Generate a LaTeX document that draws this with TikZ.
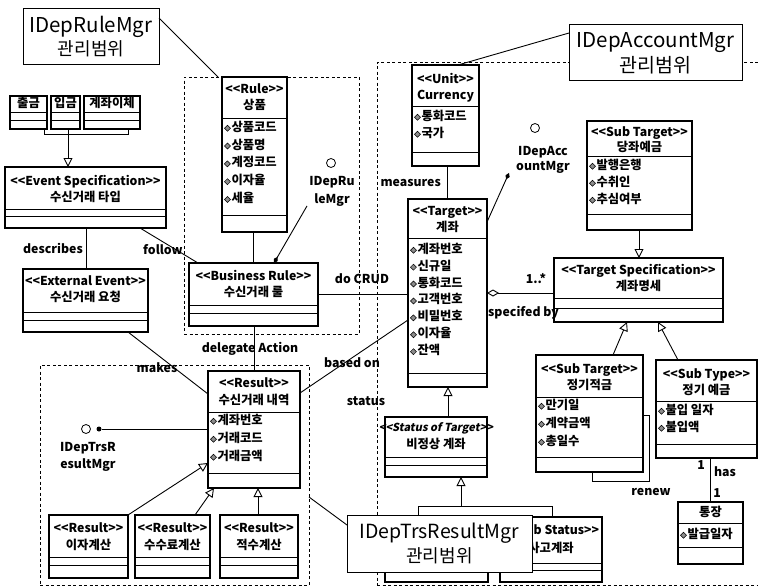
\documentclass[tikz,border=0pt]{standalone}
\usepackage{fontspec}
\setmainfont{Noto Sans CJK KR}[Ligatures=TeXOff]
\newfontfamily\krsl{Noto Sans CJK KR}[Ligatures=TeXOff,FakeSlant=0.2]
\usetikzlibrary{arrows.meta,fit,calc}

\newcommand\attico{\tikz[x=1pt,y=1pt,baseline=0pt]{\draw[line width=0.5pt,fill=black!45] (0,3)--(3,6)--(6,3)--(3,0)--cycle;}\hspace{0.8pt}}

\tikzset{
  box/.style={draw, line width=1.1pt, fill=white, inner sep=0pt, outer sep=0pt},
  sepl/.style={line width=1pt},
  region/.style={draw, dash pattern=on 3pt off 2.5pt, line width=0.9pt, inner sep=0pt, outer sep=0pt},
  conn/.style={line width=0.9pt},
  gen/.style={-{Triangle[open,length=9pt,width=9pt,line width=0.9pt]}},
  txt/.style={inner sep=0pt, font=\bfseries\fontsize{12.3}{14}\selectfont, text height=9pt, text depth=2.5pt},
  attr/.style={txt, anchor=west},
  big/.style={inner sep=0pt, font=\fontsize{18}{20}\selectfont, text height=13pt, text depth=3pt},
  bigl/.style={big, font=\fontsize{20.5}{22}\selectfont},
  lolli/.style={circle, draw, line width=0.8pt, fill=white, minimum size=9pt, inner sep=0pt},
  dotn/.style={circle, fill=black, minimum size=5pt, inner sep=0pt},
}

\newcommand\umlcls[7]{\node[box, fit={(#2,#3) (#4,#5)}] (#1) {};
  \draw[sepl] (#2,#6) -- (#4,#6); \draw[sepl] (#2,#7) -- (#4,#7);}
\newcommand\umlattrs[5]{\foreach \atx [count=\ai] in {#5} {\node[attr] (#1\ai) at (#2,{#3+(\ai-1)*#4}) {\attico\atx};}}

\begin{document}
\begin{tikzpicture}[x=1pt,y=-1pt]
\useasboundingbox[fill=white] (0,0) rectangle (758,587);

% regions
\node[region, fit={(184,77) (359,334)}] (ruleR) {};
\node[region, fit={(40,365) (309,585)}] (resR) {};
\coordinate (accTR) at (758,62); \coordinate (accTL) at (377,62); \coordinate (accBL) at (377,587);
\coordinate (accB1) at (377,585); \coordinate (accBR) at (758,585);
\draw[region] (accTR) -- (accTL) -- (accBL);
\draw[region] (accB1) -- (accBR);

% classes
\umlcls{chul}{10}{96}{47}{129}{112}{120}
\node[txt] (chulN) at (28.5,104) {출금};
\umlcls{ipg}{51}{96}{80}{129}{112}{120}
\node[txt] (ipgN) at (65.5,104) {입금};
\umlcls{ich}{84}{96}{140}{129}{112}{120}
\node[txt] (ichN) at (112,104) {계좌이체};

\umlcls{evspec}{5}{167}{166}{228}{209}{216}
\node[txt] (evspecS) at (85.5,182) {<<Event Specification>>};
\node[txt] (evspecN) at (85.5,198) {수신거래 타입};

\umlcls{extev}{23}{269}{148}{332}{312}{320}
\node[txt] (extevS) at (85.5,282) {<<External Event>>};
\node[txt] (extevN) at (85.5,298) {수신거래 요청};

\umlcls{rule}{222}{77}{287}{232}{118}{215}
\node[txt] (ruleS) at (254.5,90) {<<Rule>>};
\node[txt] (ruleN) at (254.5,106) {상품};
\umlattrs{rulea}{224}{128}{17.8}{상품코드,상품명,계정코드,이자율,세율}

\umlcls{brule}{189}{263}{318}{326}{305}{313}
\node[txt] (bruleS) at (253.5,277) {<<Business Rule>>};
\node[txt] (bruleN) at (253.5,293) {수신거래 룰};

\umlcls{result}{208}{371}{300}{488}{412}{473}
\node[txt] (resultS) at (254,384) {<<Result>>};
\node[txt] (resultN) at (254,401) {수신거래 내역};
\umlattrs{resulta}{210}{421}{18}{계좌번호,거래코드,거래금액}

\umlcls{rone}{49}{515}{128}{578}{557}{565}
\node[txt] (roneS) at (88.5,529) {<<Result>>};
\node[txt] (roneN) at (88.5,546) {이자계산};
\umlcls{rtwo}{135}{515}{210}{578}{557}{565}
\node[txt] (rtwoS) at (172.5,529) {<<Result>>};
\node[txt] (rtwoN) at (172.5,546) {수수료계산};
\umlcls{rthree}{220}{515}{298}{578}{557}{565}
\node[txt] (rthreeS) at (259,529) {<<Result>>};
\node[txt] (rthreeN) at (259,546) {적수계산};

\umlcls{cur}{412}{65}{479}{166}{106}{152}
\node[txt] (curS) at (445.5,80) {<<Unit>>};
\node[txt] (curN) at (445.5,96) {Currency};
\umlattrs{cura}{414}{117}{17}{통화코드,국가}

\umlcls{target}{408}{199}{487}{387}{238}{373}
\node[txt] (targetS) at (447.5,212) {<<Target>>};
\node[txt] (targetN) at (447.5,228) {계좌};
\umlattrs{targeta}{410}{250}{16.9}{계좌번호,신규일,통화코드,고객번호,비밀번호,이자율,잔액}

\umlcls{dang}{587}{121}{692}{230}{156}{214}
\node[txt] (dangS) at (639.5,133) {<<Sub Target>>};
\node[txt] (dangN) at (639.5,148) {당좌예금};
\umlattrs{danga}{589}{166}{17}{발행은행,수취인,추심여부}

\umlcls{tspec}{554}{258}{723}{322}{298}{308}
\node[txt] (tspecS) at (638.5,271) {<<Target Specification>>};
\node[txt] (tspecN) at (638.5,287) {계좌명세};

\umlcls{jeok}{536}{355}{643}{472}{397}{457}
\node[txt] (jeokS) at (589.5,370) {<<Sub Target>>};
\node[txt] (jeokN) at (589.5,386) {정기적금};
\umlattrs{jeoka}{538}{406}{18}{만기일,계약금액,총일수}

\umlcls{yeg}{656}{360}{757}{458}{401}{444}
\node[txt] (yegS) at (706.5,375) {<<Sub Type>>};
\node[txt] (yegN) at (706.5,391) {정기 예금};
\umlattrs{yega}{658}{411}{17}{불입 일자,불입액}

\umlcls{tong}{678}{502}{743}{564}{523}{547}
\node[txt] (tongN) at (710.5,513) {통장};
\umlattrs{tonga}{680}{535}{17}{발급일자}

\umlcls{stat}{385}{417}{487}{477}{457}{465}
\node[txt, font=\krsl\bfseries\fontsize{11}{12}\selectfont] (statS) at (436,428) {<<Status of Target>>};
\node[txt] (statN) at (436,445) {비정상 계좌};

\umlcls{subone}{385}{517}{488}{582}{563}{570}
\umlcls{subtwo}{500}{517}{602}{582}{563}{570}
\node[txt] (subtwoS) at (551,531) {<<Sub Status>>};
\node[txt] (subtwoN) at (551,549) {사고계좌};

% connectors
\coordinate (genj) at (68,134);
\draw[conn] (chul.south -| 44,0) |- (genj);
\draw[conn] (ich.south -| 128,0) |- (genj);
\draw[conn] (ipg.south -| genj) -- (genj);
\draw[conn,gen] (genj) -- (evspec.north -| genj);

\draw[conn] (evspec.south -| 86,0) -- (extev.north -| 86,0);
\node[txt,anchor=east] (describesL) at (83,250) {describes};
\draw[conn] (evspec.south -| 140,0) -- (brule.north -| 198,0);
\node[txt,anchor=west] (followL) at (143,251) {follow};
\draw[conn] (rule.south -| 253,0) -- (brule.north -| 253,0);

\node[lolli] (rlol) at (331,163) {};
\node[txt] (rlolA) at (332,182) {IDepRu};
\node[txt] (rlolB) at (332,200) {leMgr};
\draw[conn,-{Diamond[length=7pt,width=4.5pt]}] (rlolB.south -| 307,0) -- (brule.north -| 274,0);

\draw[conn] (brule.east |- 0,294) -- (target.west |- 0,294);
\node[txt] (crudL) at (362,280) {do CRUD};
\draw[conn] (brule.south -| 254,0) -- (result.north -| 254,0);
\node[txt] (delegL) at (250,349) {delegate Action};
\draw[conn] (extev.south -| 128,0) -- (result.west |- 0,394);
\node[txt] (makesL) at (157,369) {makes};
\draw[conn] (result.east |- 0,393) -- (target.west |- 0,320);
\node[txt] (basedL) at (352,364) {based on};
\node[txt] (statusL) at (366,402) {status};

\node[lolli] (tlol) at (86,429) {};
\node[dotn] (tdot) at (99,429) {};
\draw[conn] (tdot) -- (result.west |- tdot);
\node[txt] (tlolA) at (88,448) {IDepTrsR};
\node[txt] (tlolB) at (88,465) {esultMgr};

\draw[conn,gen] (rone.north east) -- (result.west |- 0,463);
\draw[conn,gen] (rtwo.north -| 195,0) -- (result.south -| 214,0);
\draw[conn,gen] (rthree.north -| 258,0) -- (result.south -| 258,0);

\draw[conn] (cur.south -| 447,0) -- (target.north -| 447,0);
\node[txt,anchor=east] (measL) at (441,183) {measures};

\node[lolli] (alol) at (535,128) {};
\node[txt] (alolA) at (543,152) {IDepAcc};
\node[txt] (alolB) at (543,167) {ountMgr};
\draw[conn,{Diamond[length=7pt,width=4.5pt]}-] (alolB.south -| 509,0) -- (target.east |- 0,222);

\draw[conn,{Diamond[open,length=12pt,width=7pt]}-] (target.east |- 0,293) -- (tspec.west |- 0,293);
\node[txt] (multL) at (536,280) {1..*};
\node[txt,anchor=west] (specL) at (488,313) {specifed by};

\draw[conn,gen] (dang.south -| 639,0) -- (tspec.north -| 639,0);
\draw[conn,gen] (jeok.north -| 613,0) -- (tspec.south -| 627,0);
\draw[conn,gen] (yeg.north -| 678,0) -- (tspec.south -| 658,0);

\draw[conn] (jeok.east |- 0,415) -| (649,481) -| (jeok.south -| 592,0);
\node[txt] (renewL) at (651,492) {renew};

\draw[conn] (yeg.south -| 710,0) -- (tong.north -| 710,0);
\node[txt] (oneA) at (701,466) {1};
\node[txt] (hasL) at (725,473) {has};
\node[txt] (oneB) at (717,494) {1};

\draw[conn,gen] (stat.north -| 448,0) -- (target.south -| 448,0);
\coordinate (sj) at (461,506);
\draw[conn] (subone.north -| 418,0) |- (sj);
\draw[conn] (subtwo.north -| 552,0) |- (sj);
\draw[conn,gen] (sj) -- (stat.south -| sj);

% manager labels
\node[box, line width=1pt, fit={(23,8) (159,64)}] (rmgr) {};
\node[bigl] (rmgrA) at (91,27) {IDepRuleMgr};
\node[big] (rmgrB) at (91,50) {관리범위};
\draw[conn] (rmgr.east |- 0,18) -- (ruleR.north -| 218,0);

\node[box, line width=1pt, fit={(569,24) (742,80)}] (amgr) {};
\node[bigl] (amgrA) at (655.5,42) {IDepAccountMgr};
\node[big, font=\fontsize{19.5}{22}\selectfont] (amgrB) at (655.5,67) {관리범위};
\draw[conn] (amgr.west |- 0,33) -- (cur.north -| 458,0);

\node[box, line width=1pt, fit={(347,515) (532,572)}] (tmgr) {};
\node[big, font=\fontsize{19.5}{22}\selectfont] (tmgrA) at (439.5,533) {IDepTrsResultMgr};
\node[big] (tmgrB) at (439.5,557) {관리범위};
\draw[conn] (resR.east |- 0,497) -- (tmgr.west |- 0,525);
\end{tikzpicture}
\end{document}
